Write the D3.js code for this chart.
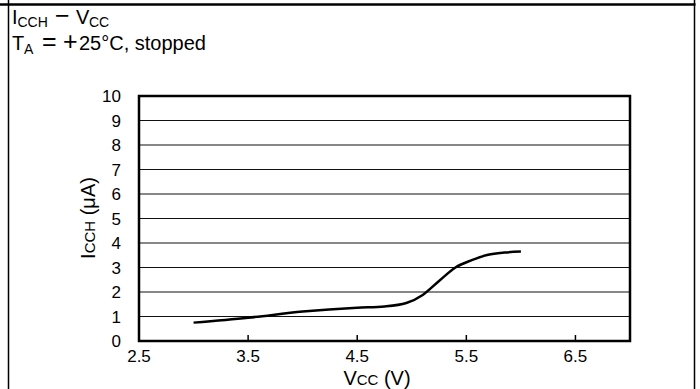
<!DOCTYPE html>
<html><head><meta charset="utf-8">
<script src="https://cdn.jsdelivr.net/npm/d3@7"></script>
<style>body{margin:0;background:#fff}svg{display:block;font-family:"Liberation Sans",Arial,sans-serif}</style>
</head><body><svg id="c" width="700" height="389"></svg>
<script>
const vcc = [3.0, 3.5, 4.0, 4.5, 4.75, 4.95, 5.1, 5.25, 5.4, 5.55, 5.7, 5.85, 6.0];
const icch = [0.75, 0.95, 1.2, 1.36, 1.41, 1.55, 1.88, 2.45, 3.0, 3.3, 3.52, 3.61, 3.65];
const xTicks = [2.5, 3.5, 4.5, 5.5, 6.5];
const yTicks = [0,1,2,3,4,5,6,7,8,9,10];

const svg = d3.select("#c");
const L=139, R=630, T=96, B=341;
const x = d3.scaleLinear().domain([2.5,7.0]).range([L,R]);
const y = d3.scaleLinear().domain([0,10]).range([B,T]);

// outer frame
svg.append("line").attr("x1",0).attr("x2",695.5).attr("y1",4.5).attr("y2",4.5).attr("stroke","#000").attr("stroke-width",2.5);
svg.append("line").attr("x1",8.5).attr("x2",8.5).attr("y1",0).attr("y2",389).attr("stroke","#000").attr("stroke-width",1.5);
svg.append("line").attr("x1",694.5).attr("x2",694.5).attr("y1",0).attr("y2",389).attr("stroke","#000").attr("stroke-width",1.5);

// title
const t1 = svg.append("text").attr("y",24).attr("font-size",20).attr("fill","#000");
t1.append("tspan").attr("x",12).text("I");
t1.append("tspan").attr("x",17.5).attr("font-size",14).attr("dy",3).text("CCH");
t1.append("tspan").attr("x",55).attr("dy",-3).attr("font-size",25).text("\u2212");
t1.append("tspan").attr("x",76).text("V");
t1.append("tspan").attr("x",89).attr("font-size",14).attr("dy",3).text("CC");
const t2 = svg.append("text").attr("y",50).attr("font-size",20).attr("fill","#000");
t2.append("tspan").attr("x",12).text("T");
t2.append("tspan").attr("x",24).attr("font-size",14).attr("dy",4).text("A");
t2.append("tspan").attr("x",42).attr("dy",-4).attr("font-size",25).text("=");
t2.append("tspan").attr("x",63).attr("font-size",25).text("+");
t2.append("tspan").attr("x",79).text("25\u00B0C, stopped");

// gridlines
svg.append("g").selectAll("line").data(yTicks.filter(d=>d>0&&d<10)).join("line")
  .attr("x1",L).attr("x2",R).attr("y1",d=>y(d)).attr("y2",d=>y(d))
  .attr("stroke","#111").attr("stroke-width",1);

// y axis labels
svg.append("g").selectAll("text").data(yTicks).join("text")
  .attr("x",121).attr("y",d=>y(d)).attr("dy","0.36em").attr("text-anchor","end")
  .attr("font-size",17).text(d=>d);

// x ticks
svg.append("g").selectAll("line").data(xTicks.filter(d=>d>2.5)).join("line")
  .attr("x1",d=>x(d)).attr("x2",d=>x(d)).attr("y1",B).attr("y2",B-6)
  .attr("stroke","#000").attr("stroke-width",1.5);
svg.append("g").selectAll("text").data(xTicks).join("text")
  .attr("x",d=>x(d)).attr("y",362).attr("text-anchor","middle")
  .attr("font-size",17).text(d=>d.toFixed(1));

// frame
svg.append("rect").attr("x",L).attr("y",T).attr("width",R-L).attr("height",B-T)
  .attr("fill","none").attr("stroke","#000").attr("stroke-width",2.5);

// curve
const pts = vcc.map((v,i)=>[v,icch[i]]);
svg.append("path").datum(pts)
  .attr("d", d3.line().x(d=>x(d[0])).y(d=>y(d[1])).curve(d3.curveMonotoneX))
  .attr("fill","none").attr("stroke","#000").attr("stroke-width",2.5);

// axis titles
const xl = svg.append("text").attr("x",377).attr("y",385).attr("text-anchor","middle").attr("font-size",20);
xl.append("tspan").text("V");
xl.append("tspan").attr("font-size",15).text("CC");
xl.append("tspan").text(" (V)");
const yl = svg.append("text").attr("transform","translate(95,218) rotate(-90)").attr("text-anchor","middle").attr("font-size",20);
yl.append("tspan").text("I");
yl.append("tspan").attr("font-size",15).text("CCH");
yl.append("tspan").text(" (\u03BCA)");
</script></body></html>
